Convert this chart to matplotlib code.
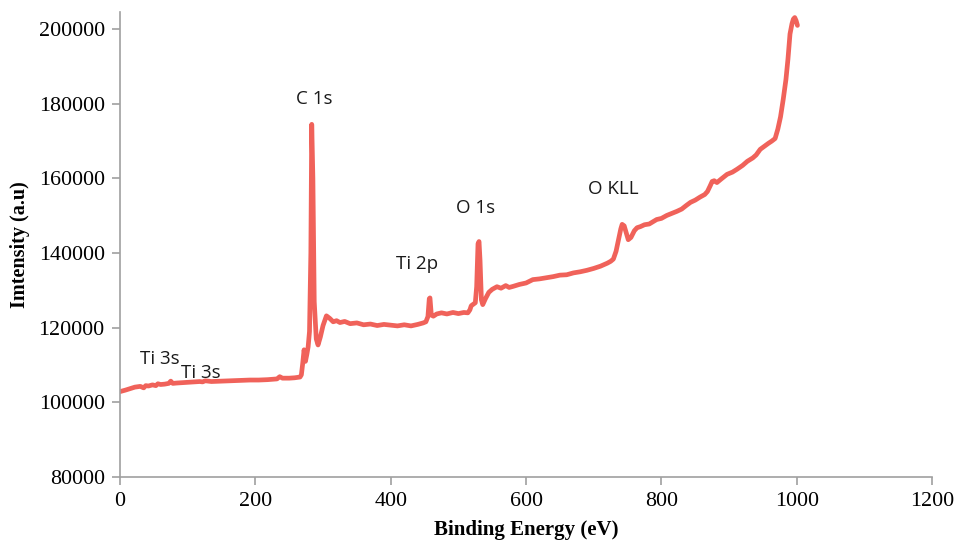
import matplotlib.pyplot as plt

# XPS survey spectrum: binding energy (eV) vs counts
energy = [0, 8, 15, 22, 30, 35, 38, 42, 48, 53, 56, 60, 66, 72, 75, 78, 84, 92,
          100, 110, 118, 122, 126, 135, 150, 165, 180, 192, 205, 218, 226, 232,
          236, 240, 250, 258, 266, 268, 270, 272, 274, 276, 278, 280, 282, 283.3,
          285, 287, 290, 292.6, 296, 300, 305, 310, 315, 320, 325, 332, 340,
          350, 360, 370, 380, 390, 400, 410, 420, 430, 440, 448, 452, 455, 457,
          458, 460, 463, 468, 475, 483, 492, 500, 508, 514, 517, 519, 522, 525,
          527, 529, 530.5, 532, 534, 536, 540, 545, 550, 557, 563, 570, 575,
          581, 590, 600, 610, 620, 630, 640, 650, 660, 670, 680, 690, 700, 710,
          720, 725, 729, 733, 737, 740, 742, 745, 748, 751, 755, 760, 764, 769,
          775, 782, 793, 800, 808, 815, 823, 830, 837, 843, 850, 857, 864, 868,
          872, 875, 878, 882, 888, 897, 905, 912, 920, 927, 935, 940, 946, 952,
          958, 963, 968, 972, 976, 980, 984, 987, 990, 993, 995, 997, 999, 1001]
counts = [102900, 103300, 103700, 104100, 104300, 103900, 104500, 104400,
          104700, 104500, 105000, 104800, 104900, 105100, 105700, 105100,
          105200, 105300, 105400, 105500, 105600, 105500, 105800, 105600,
          105700, 105800, 105900, 106000, 106000, 106100, 106200, 106300,
          106900, 106500, 106500, 106600, 106800, 107400, 110500, 114100,
          111000, 112800, 114900, 119000, 140000, 174500, 160000, 127000,
          117000, 115400, 117500, 120600, 123200, 122500, 121600, 121900,
          121400, 121700, 121100, 121300, 120800, 121000, 120600, 120900,
          120700, 120500, 120800, 120500, 120900, 121300, 121600, 123000,
          127800, 128000, 123400, 123100, 123700, 124000, 123700, 124100,
          123800, 124100, 124000, 124800, 125900, 126300, 126700, 131000,
          142500, 143100, 138000, 127500, 126200, 127800, 129500, 130300,
          131000, 130600, 131300, 130800, 131100, 131600, 132000, 132900,
          133100, 133400, 133700, 134100, 134200, 134700, 135000, 135400,
          135900, 136500, 137300, 137800, 138400, 140500, 144000, 146500,
          147700, 147300, 145500, 143600, 144200, 146000, 146800, 147100,
          147600, 147800, 149000, 149300, 150100, 150600, 151200, 151800,
          152800, 153600, 154200, 155000, 155700, 156500, 158000, 159200,
          159400, 158900, 159800, 161100, 161700, 162500, 163500, 164600,
          165500, 166300, 167800, 168600, 169400, 170000, 170700, 173200,
          176500, 181200, 186500, 192000, 198700, 201500, 202700, 203100,
          202300, 201000]

# peak labels: text, energy, counts
peak_names = ['Ti 3s', 'Ti 3s', 'C 1s', 'Ti 2p', 'O 1s', 'O KLL']
peak_x = [59, 120, 287, 439, 525, 729]
peak_y = [111700, 108000, 181200, 137200, 152200, 157300]

fig = plt.figure(figsize=(9.57, 5.44), dpi=100)
ax = fig.add_axes([0.1254, 0.123, 0.8486, 0.855])

ax.plot(energy, counts, color='#f0625a', linewidth=3.4,
        solid_joinstyle='round', solid_capstyle='round')

for name, px, py in zip(peak_names, peak_x, peak_y):
    ax.text(px, py, name, ha='center', va='center', fontsize=13.5,
            family='Open Sans', color='#1a1a1a')

ax.set_xlim(0, 1200)
ax.set_ylim(80000, 204600)
ax.set_xticks(range(0, 1201, 200))
ax.set_yticks(range(80000, 200001, 20000))

for side in ('top', 'right'):
    ax.spines[side].set_visible(False)
for side in ('left', 'bottom'):
    ax.spines[side].set_color('#a0a0a0')
    ax.spines[side].set_linewidth(1.2)
ax.tick_params(direction='out', length=6, width=1.2, color='#a0a0a0',
               labelsize=15.8, pad=5)
for lbl in ax.get_xticklabels() + ax.get_yticklabels():
    lbl.set_family('Liberation Serif')

ax.set_xlabel('Binding Energy (eV)', family='Liberation Serif',
              fontweight='bold', fontsize=15, labelpad=6)
ax.set_ylabel('Imtensity (a.u)', family='Liberation Serif',
              fontweight='bold', fontsize=14.5, labelpad=6)

fig.savefig('out.png', dpi=100)
